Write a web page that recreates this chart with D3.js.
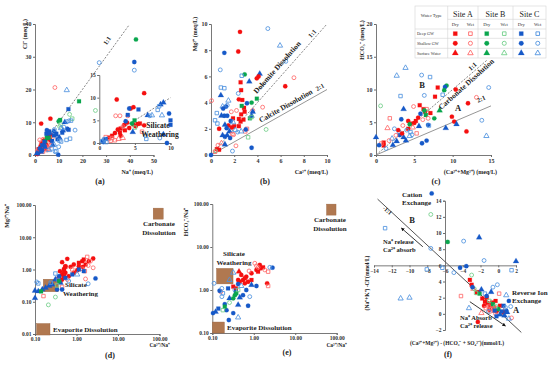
<!DOCTYPE html>
<html>
<head>
<meta charset="utf-8">
<script src="https://cdn.jsdelivr.net/npm/d3@7"></script>
<style>
  body { margin: 0; background: #fff; }
  svg { font-family: "Liberation Serif", "Times New Roman", serif; }
</style>
</head>
<body>
<svg width="550" height="366"></svg>
<script>
// codes: site (A/B/C), season (d = dry, w = wet), type (s = deep GW, c = shallow GW, t = surface water)
var naCl = [
  [2.6,9.6,"Adc"],[6.5,11.1,"Adc"],[5.5,7.2,"Adc"],[4,3.5,"Adc"],[3,2.2,"Adc"],[2,1.2,"Adc"],[1.5,0.8,"Adc"],[5,5,"Adc"],[3.5,4.2,"Adc"],[6.5,4.5,"Adc"],[4.5,2.8,"Adc"],[1,0.3,"Adc"],[7,6,"Adc"],[2.5,3,"Adc"],
  [3,2.8,"Ads"],[4.2,4.5,"Ads"],[2.2,1.6,"Ads"],[5.5,6.2,"Ads"],[3.5,3.5,"Ads"],[1.5,1.8,"Ads"],[6,5.5,"Ads"],
  [2,2.2,"Adt"],[4,1.8,"Adt"],[3.2,4,"Adt"],[5,3,"Adt"],
  [8.4,20.6,"Awc"],[2,4.6,"Awc"],[3.4,4.8,"Awc"],[6.2,2.8,"Awc"],[1,1.4,"Awc"],[5.2,3.6,"Awc"],[7.3,5.2,"Awc"],
  [4,2.6,"Aws"],[2.6,3.8,"Aws"],[6.6,3,"Aws"],[1.6,1,"Aws"],[4.8,1.5,"Aws"],
  [3,1,"Awt"],[5.5,1.8,"Awt"],
  [18.6,16.4,"Bds"],[10.6,10.7,"Bds"],[5.8,5.2,"Bds"],[4.3,4.3,"Bds"],
  [42.6,35.3,"Bdc"],[10,10.3,"Bdc"],[5,5.5,"Bdc"],
  [25.5,13.6,"Bwc"],[14.6,12.4,"Bwc"],[10.4,8.7,"Bwc"],
  [15.7,11.1,"Bws"],[10.8,9.3,"Bws"],
  [14.1,14,"Cds"],[14.2,7.7,"Cds"],[6,7.2,"Cds"],[4.8,6.5,"Cds"],[9,6.5,"Cds"],[8,6,"Cds"],[4,4,"Cds"],[7.2,4.3,"Cds"],[3,3,"Cds"],[11.5,6.8,"Cds"],[9.5,4.8,"Cds"],
  [41.9,28.4,"Cdc"],[9.8,0.1,"Cdc"],[5,7.6,"Cdc"],[6.2,6.6,"Cdc"],[4,2.8,"Cdc"],[2,2,"Cdc"],[3,1.4,"Cdc"],[13.6,8,"Cdc"],[8,7.3,"Cdc"],[1.2,0.5,"Cdc"],
  [12.6,10,"Cdt"],[9,6.2,"Cdt"],[10.3,5.3,"Cdt"],[7.5,3,"Cdt"],[4.2,2.4,"Cdt"],[2.5,1,"Cdt"],[0.8,0.5,"Cdt"],[11.8,7.5,"Cdt"],
  [27.1,28.2,"Cwc"],[41.9,25.9,"Cwc"],[16.9,7.6,"Cwc"],[12.2,8.5,"Cwc"],[13.5,10.2,"Cwc"],[8.2,7.8,"Cwc"],[10,2.5,"Cwc"],[8.5,1,"Cwc"],[14.3,10.4,"Cwc"],
  [15.2,10.5,"Cws"],[13.3,4.6,"Cws"],[11,4.1,"Cws"],[14.8,5,"Cws"],[7,2,"Cws"],[9,1.2,"Cws"],[10.3,4.4,"Cws"],
  [13.4,19.8,"Cwt"],[11,8.2,"Cwt"],[6,1.5,"Cwt"],[8,3.2,"Cwt"]
];
var naClZoom = [
  [2.45,9.6,"Adc"],[6.3,11,"Adc"],[4.8,7.9,"Adc"],[4.4,7.6,"Adc"],[3.5,4,"Adc"],[3.9,4.5,"Adc"],[2.6,3,"Adc"],[2.2,2.2,"Adc"],[4.2,3.3,"Adc"],[5.1,3.7,"Adc"],[3,1.6,"Adc"],[6.3,3.9,"Adc"],
  [5.7,4.3,"Ads"],[5.4,4.2,"Ads"],[3,3.2,"Ads"],[3.6,2.8,"Ads"],[2.9,2.3,"Ads"],[1.8,1.6,"Ads"],[1.4,1.2,"Ads"],[4.8,4.1,"Ads"],
  [2.3,6,"Awc"],[2.9,6,"Awc"],[4,6,"Awc"],[3.3,3.6,"Awc"],
  [6,2.5,"Aws"],[0.9,1.3,"Aws"],[1.3,0.9,"Aws"],[1.8,1.1,"Aws"],[2.2,0.6,"Aws"],[1.6,0.5,"Aws"],
  [3.3,1.1,"Awt"],[2.7,0.9,"Awt"],
  [4.95,5,"Bds"],[4.6,4.3,"Bdc"],[5,3.4,"Bws"],
  [4,6.2,"Cds"],[5.5,7.4,"Cds"],[10,5,"Cds"],[10,4,"Cds"],[0.9,0.9,"Cds"],
  [4.2,7.6,"Cdc"],[9.8,6.5,"Cdc"],[9.5,0,"Cdc"],[0.5,0.5,"Cdc"],[0.6,0.2,"Cdc"],[3.7,4.8,"Cdc"],
  [9,8.9,"Cdt"],[8.6,8.5,"Cdt"],[9,1.9,"Cdt"],[6.8,6.1,"Cdt"],[4.7,2.4,"Cdt"],
  [8.4,8.1,"Cws"],[8.2,7.3,"Cws"],[6.6,0.9,"Cws"],[0.4,0.4,"Cws"],[1,0.2,"Cws"],[0.7,0.8,"Cws"],
  [7.1,6,"Cwc"],[6.5,1.6,"Cwc"],[8.5,1.1,"Cwc"],
  [7.4,6.1,"Cwt"],[8.8,6.1,"Cwt"]
];
var caMg = [
  [2.5,9.4,"Adc"],[2.35,7.9,"Adc"],[1.15,7.8,"Cdc"],[4.9,9.65,"Cwc"],[5.95,8.35,"Cwt"],[6.45,7.15,"Cwc"],[0.8,6.5,"Cwc"],[2.9,6.15,"Bdc"],
  [2.65,6.05,"Cws"],[4.2,6.2,"Cdt"],[4.1,6,"Adc"],[3.95,5.85,"Adc"],[2.55,5.55,"Ads"],[7.15,5.9,"Awc"],[6.4,5.25,"Adc"],[3.3,5.6,"Cdt"],
  [0.85,5.15,"Cws"],[1.15,5.1,"Cws"],[0.85,4.55,"Cdt"],[1.5,4.15,"Cwt"],[2.35,4.7,"Cwc"],[2.6,4.95,"Ads"],[2.7,4.2,"Ads"],[2.4,4.25,"Adc"],
  [1.3,3.7,"Cdc"],[0.05,4.15,"Awc"],[1.4,3.8,"Cwc"],[3.95,4.3,"Bds"],[3.5,4,"Bdc"],[3.1,3.95,"Cdc"],[2.85,3.6,"Ads"],[2.65,3.75,"Bds"],
  [4.45,3.65,"Awc"],[1,3.7,"Cwt"],[0.5,3.2,"Cws"],[0.9,3,"Cdt"],[1.15,3,"Cdc"],[1.4,3,"Cdc"],[1.9,2.8,"Ads"],[2.4,2.75,"Ads"],
  [2.8,2.7,"Ads"],[2.6,3.1,"Ads"],[2.9,3.3,"Ads"],[3.35,2.8,"Bds"],[3.4,2.85,"Bwc"],[3.5,3,"Cdt"],[3.5,2.9,"Bws"],[0.35,2.65,"Cws"],
  [0.55,2.4,"Cws"],[2.55,2.55,"Ads"],[2.4,2.2,"Ads"],[1.5,2.25,"Adc"],[1.8,2.1,"Adc"],[2,2.2,"Ads"],[3.1,2,"Aws"],[2.95,1.8,"Aws"],
  [3.2,1.35,"Bws"],[4.75,1.95,"Bwc"],[1.2,2.3,"Cdt"],[1.35,2.05,"Cdc"],[1.6,1.8,"Cdt"],[1.7,2.6,"Cdc"],[1.4,1.5,"Cdt"],[1.65,1.3,"Cdc"],
  [1.2,1.4,"Cdc"],[1,1.5,"Cdt"],[1.85,1.6,"Aws"],[2.1,1.9,"Cwt"],[2.3,1.75,"Cwc"],[2.6,1.8,"Cwt"],[3,1.95,"Cdc"],[0.7,2,"Adc"],
  [1.95,1.55,"Awc"],[0.6,0.75,"Awc"],[0.9,0.9,"Awt"],[0.5,0.45,"Ads"],[0.7,0.4,"Ads"],[0.4,0.3,"Bwc"],[0.35,0.25,"Aws"],[0,0,"Cdc"],
  [3.5,0.55,"Cdc"],[1.85,0.3,"Cwc"],[2.15,0.7,"Awc"],[1.2,0.8,"Cdt"],[2.2,3.4,"Awc"],[1.75,3.3,"Awc"],[1.05,3.55,"Cdc"],[1.9,2.5,"Cwt"],
  [3.6,3.4,"Awc"],[3.6,3.3,"Cdt"]
];
var caMgHco3 = [
  [3.85,13.3,"Cwt"],[5.95,12.2,"Cwc"],[7.05,11.9,"Cws"],[2.7,12.1,"Cwt"],[8.05,10.3,"Ads"],[9.2,10.6,"Bdc"],[9,10.4,"Cdc"],[10.4,10,"Adc"],
  [7.7,8.9,"Ads"],[3.2,9,"Cws"],[6.3,9.1,"Cwc"],[8.7,9.2,"Cws"],[14.7,10.3,"Cwc"],[13.1,8.8,"Awc"],[12,7.9,"Adc"],[0.6,7.5,"Bwc"],
  [5.7,7.6,"Ads"],[6.2,7,"Ads"],[6.4,6.6,"Ads"],[4.9,7.4,"Awc"],[3.6,7,"Cdt"],[6.6,7,"Aws"],[6.7,6.6,"Bwc"],[6.3,6.8,"Bdc"],
  [8.3,6.8,"Bdt"],[1.8,5.6,"Aws"],[9.9,5.85,"Adc"],[7.6,5.6,"Bdc"],[6.1,5.4,"Awc"],[3.3,5.45,"Cdc"],[4.2,5.2,"Adc"],[1.5,4.1,"Awt"],
  [10.2,5.1,"Adc"],[9.1,4.1,"Cdt"],[10.5,4.7,"Cdt"],[11.8,3.6,"Adc"],[13.8,5.3,"Cwc"],[14.4,2.9,"Cwt"],[6.8,4.6,"Cdc"],[6.9,4.5,"Cws"],
  [6,1.8,"Cdc"],[6.6,2.2,"Cdc"],[0,2.7,"Cdt"],[1,1.9,"Ads"],[1,1.45,"Ads"],[0.7,1.75,"Aws"],[3.1,3.05,"Cdc"],[2.7,2.1,"Cdt"],
  [3.6,2.7,"Cdt"],[4.2,4,"Ads"],[4.6,4.8,"Ads"],[5,4.9,"Adc"],[5.2,5.2,"Ads"],[4.4,4.7,"Bdc"],[3.5,4.5,"Awc"],[4,3.8,"Cwc"],
  [4.5,3.5,"Cws"],[3,3.5,"Cws"],[2.6,3,"Awc"],[2.4,4,"Cwc"],[5.5,5.7,"Adc"],[5.8,6.3,"Cdc"],[4.8,4.2,"Awt"],[2.1,2.5,"Cwt"],
  [1.7,2.2,"Awc"],[3.9,2.2,"Cdt"],[4.7,3.1,"Cwc"],[5.3,3.3,"Aws"],[3.4,3.3,"Adc"],[2.9,3.8,"Adc"],[4.4,2.9,"Cwt"],[1.3,1,"Cwc"],
  [2.2,1.5,"Cdt"],[5.6,4.4,"Cdt"],[7.1,6.4,"Ads"],[6.5,6.1,"Bds"],[6.8,5.6,"Awc"],[0.4,1.5,"Cdc"],[8.9,9.9,"Bdc"]
];
var mgNa = [
  [0.6,2.14,"Adc"],[0.45,1.69,"Adc"],[0.54,1.27,"Adc"],[0.72,1.21,"Adc"],[0.4,0.89,"Adc"],[0.45,0.7,"Adc"],[0.54,0.79,"Adc"],[0.65,0.62,"Adc"],
  [0.86,1.43,"Adc"],[1.14,1.27,"Adc"],[1.37,1.81,"Adc"],[1.04,0.95,"Adc"],[1.42,1.21,"Adc"],[2.52,2.19,"Adc"],[1.98,1.81,"Adc"],[0.86,0.79,"Adc"],
  [0.45,0.49,"Adc"],[0.34,0.49,"Adc"],[0.5,1.05,"Adc"],
  [0.54,1.21,"Ads"],[0.5,0.89,"Ads"],[1.14,1.61,"Ads"],[1.5,2.04,"Ads"],[1.65,1.43,"Ads"],[0.38,0.55,"Ads"],[0.41,0.44,"Ads"],[0.5,0.62,"Ads"],
  [1.81,2.46,"Aws"],[2.17,1.81,"Awc"],[2.52,1.13,"Awc"],[1.65,0.51,"Awc"],[1.37,1.05,"Aws"],[0.79,1,"Aws"],[1.91,1.33,"Awc"],[0.16,0.15,"Aws"],
  [0.45,0.29,"Aws"],[0.6,0.49,"Awc"],[1.59,0.89,"Aws"],
  [2.87,0.53,"Cdc"],[0.41,0.39,"Cdt"],[0.31,0.49,"Cdt"],[0.26,0.34,"Cdt"],[0.22,0.31,"Cdt"],[0.18,0.27,"Cdt"],[0.15,0.24,"Cdt"],[0.12,0.21,"Cdt"],
  [0.1,0.22,"Cdt"],[0.1,0.13,"Cdt"],[0.34,0.24,"Cdc"],[0.45,0.24,"Cdc"],[1.14,1,"Cds"],[1.5,0.89,"Cds"],[0.54,0.55,"Cds"],[0.79,0.7,"Cds"],
  [0.38,0.62,"Cdc"],[0.31,0.75,"Cws"],[0.36,0.47,"Cws"],[1.91,0.36,"Cwc"],[0.12,0.37,"Cws"],[0.11,0.41,"Cwc"],[0.24,0.39,"Cws"],[0.65,0.44,"Cwc"],
  [1.04,0.7,"Cwt"],
  [0.14,0.21,"Bds"],[0.31,0.14,"Bwc"],[0.21,0.08,"Bwc"],[0.38,0.44,"Bdc"],[0.34,0.32,"Bws"]
];
var hco3Na = [
  [2.83,3.31,"Cdc"],
  [1.4,3.83,"Adc"],[1.48,3.2,"Adc"],[1.16,2.93,"Adc"],[0.88,2.45,"Adc"],[0.66,2.04,"Adc"],[0.55,1.71,"Adc"],[0.46,1.56,"Adc"],[0.42,1.71,"Adc"],
  [0.5,2.24,"Adc"],[0.61,1.43,"Adc"],[0.73,1.56,"Adc"],[0.44,2.67,"Adt"],[0.37,1.09,"Ads"],[0.32,1.2,"Ads"],[0.88,1.71,"Ads"],[2.1,1.43,"Adc"],
  [1.27,2.67,"Ads"],[1.68,3.37,"Ads"],[0.61,1.87,"Ads"],
  [1.06,4.18,"Awc"],[1.16,3.63,"Awc"],[0.77,2.77,"Awc"],[2.22,2.67,"Aws"],[2.22,1.24,"Aws"],[0.16,0.91,"Awc"],[1.85,2.93,"Awc"],[1.27,3.37,"Awc"],
  [0.104,0.29,"Cdc"],[0.22,0.34,"Cdc"],[0.25,0.2,"Cdc"],[0.32,0.29,"Cdc"],[0.73,0.43,"Cdc"],[0.15,0.96,"Cdc"],[0.24,1.09,"Cds"],[0.42,1.38,"Cdc"],
  [0.37,0.91,"Cdc"],[0.2,0.47,"Cdc"],[0.26,0.64,"Cdt"],[0.42,0.45,"Cdt"],[0.46,0.67,"Cdt"],[0.88,1.31,"Cdt"],[0.55,0.76,"Cdc"],[0.12,0.31,"Cdt"],
  [0.14,0.37,"Cds"],[0.66,1,"Cdc"],[1.16,1.24,"Cdc"],
  [0.11,1.43,"Cwc"],[0.32,2.53,"Cwt"],[0.17,1.09,"Cwc"],[0.18,0.84,"Cws"],[0.17,0.7,"Cwc"],[0.42,0.23,"Cwt"],[0.35,1,"Cwc"],[0.8,0.7,"Cwc"],
  [0.5,1.24,"Cwt"],[0.26,1.71,"Cwt"],[2.44,3.37,"Cwc"],
  [0.32,0.64,"Bdc"],[0.35,0.76,"Bdc"],[0.38,0.84,"Bds"],[0.2,0.41,"Bds"],[0.18,0.34,"Bws"],[0.26,0.51,"Bwc"],[0.42,1,"Bws"]
];
var ionEx = [
  [-7.5,14.9,"Cdc"],[-7.6,12.3,"Bwc"],[-12.75,10.6,"Cws"],[-5.7,8.9,"Bdc"],[-3.9,9,"Cwc"],[-2.15,9.45,"Cdt"],[-7.6,8.1,"Cwc"],[-1.6,6.6,"Cwc"],
  [2,6.5,"Cdt"],[-8.05,5.5,"Cws"],[-6.3,5.7,"Cws"],[1.5,5.4,"Cws"],[-4.3,5.7,"Cdc"],[-3.6,5.9,"Cdc"],[-5,5.1,"Cwc"],[-11,1.9,"Cwt"],
  [-10,2,"Cwt"],[-4.2,2.2,"Aws"],[-2.3,-1,"Adc"],
  [-3.2,4.2,"Ads"],[-3,3.6,"Ads"],[-2.4,2.6,"Ads"],[-2.2,2.7,"Ads"],[-1.8,1.9,"Ads"],[-1.5,1.5,"Ads"],[-1.2,1.3,"Ads"],[-0.9,1,"Ads"],
  [-0.7,1.4,"Ads"],[-0.5,0.8,"Ads"],[-1.3,2,"Ads"],[-0.3,1.6,"Ads"],[0.2,1,"Ads"],
  [-1,0.5,"Adc"],[-0.2,0.3,"Adc"],[0.6,0.2,"Adc"],[-1.6,1,"Adc"],
  [-1.1,0.9,"Aws"],[-0.8,0.6,"Aws"],[-0.5,0.4,"Aws"],[-0.2,0.7,"Aws"],[-1.4,0.7,"Aws"],[0.1,2.5,"Aws"],[-0.6,1.1,"Aws"],
  [1.5,-0.5,"Awc"],[-0.9,0.3,"Awc"],[-0.3,0,"Awc"],[0.4,0.6,"Awc"],[-1.9,0.1,"Awt"],[-2.8,3.1,"Awt"],
  [-2.1,2.5,"Bds"],[-3,4.8,"Bwc"],[-2.7,3.1,"Bwc"],[-1,1.6,"Bws"],[0,0.6,"Bdc"],[-0.6,1.2,"Bds"],[-2.5,2.6,"Bws"],[-0.3,0.9,"Bws"],
  [-2.9,3.3,"Cdc"],[-1.9,3,"Cdt"],[-0.6,3.3,"Cwc"],[-0.1,3.6,"Cwc"],[0.9,2.3,"Cwt"],[1.2,1.6,"Cdc"],[0.6,1,"Cds"],[0.9,0.4,"Cdc"],
  [1,0.2,"Cdt"],[0.4,0.3,"Cds"],[0.2,-0.1,"Cdt"],[0.7,-0.2,"Cdt"],[1.2,-0.6,"Cwt"],[-0.4,0.4,"Cds"],[-1.1,0.3,"Cwc"],[-3.3,0.7,"Cwt"],
  [-0.8,2.7,"Cdt"],[-1.5,2.5,"Cws"],[0.8,0.8,"Cwc"],[-0.2,-0.3,"Cds"],[1.4,0.9,"Cwc"],[-1.3,2.2,"Cdc"]
];

// ticks
var ticksNa = [0,10,20,30,40,50], ticksCl = [0,10,20,30,40];
var ticksZoomX = [0,5,10], ticksZoomY = [0,5,10,15];
var ticksCa = [0,2,4,6,8,10];
var ticksC = [0,5,10,15], ticksHco3 = [0,5,10,15,20];
var ticksLogX = [0.1,1,10,100], ticksLogD = [0.01,0.1,1,10,100], ticksLogE = [0.1,1,10,100];
var ticksFX = [-14,-12,-10,-8,-6,-4,-2,0,2], ticksFY = [-2,0,2,4,6,8,10,12,14];

// reference lines, end points in data units
var lineA11 = [[0,0],[39.5,39.5]], lineZoom11 = [[0,0],[10,10]];
var lineB11 = [[0,0],[10,10]], lineB21 = [[0,0],[10,5]];
var lineC11 = [[0,0],[14.5,14.5]], lineC21 = [[0,0],[15,7.5]];
var lineF = [[-13.6,14.2],[2.6,-2.3]];
var arrowsF = [[[-8.5,8.3],[-10.9,10.6]], [[-3.2,1.5],[0.8,-1.5]]];

// end-member boxes
var boxesD = [["Carbonate", 93, 54, 10, 11], ["Silicate", 0.24, 0.32, 15, 12.5], ["Evaporite", 0.158, 0.014, 13.5, 11.5]];
var boxesE = [["Carbonate", 74, 74, 9.5, 11], ["Silicate", 0.2, 2.1, 16.5, 15.5], ["Evaporite", 0.14, 0.134, 12, 11]];

// legend
var sites = ["Site A", "Site B", "Site C"];
var seasons = ["Dry", "Wet"];
var waterTypes = ["Deep GW", "Shallow GW", "Surface Water"];

var colors = { A: ["#f50f0f", "#ff6a6a"], B: ["#0aa64e", "#72cf8a"], C: ["#1659c8", "#4f92df"] };
var shapes = { s: d3.symbolSquare, c: d3.symbolCircle, t: d3.symbolTriangle };

var svg = d3.select("svg");
var brown = "#b07850";

function col(code) { return colors[code[0]][code[1] === "d" ? 0 : 1]; }

function drawPts(g, data, x, y, sz) {
  sz = sz || 15;
  g.append("g").selectAll("path").data(data).join("path")
    .attr("transform", d => "translate(" + x(d[0]) + "," + y(d[1]) + ")")
    .attr("d", d => d3.symbol(shapes[d[2][2]], d[2][1] === "d" ? sz : sz * 0.8)())
    .attr("fill", d => d[2][1] === "d" ? col(d[2]) : "none")
    .attr("stroke", d => col(d[2]))
    .attr("stroke-width", d => d[2][1] === "d" ? 0.2 : 0.85);
}

function styleAxis(a, fs) {
  a.attr("font-family", null);
  a.select(".domain").attr("stroke", "#6a6a6a").attr("stroke-width", 0.9);
  a.selectAll(".tick line").attr("stroke", "#6a6a6a");
  a.selectAll("text").attr("font-size", fs || 6).attr("font-weight", "bold").attr("fill", "#333");
}

function axes(x, y, xt, yt, fmt, fs) {
  var ax = svg.append("g").attr("transform", "translate(0," + y.range()[0] + ")")
    .call(d3.axisBottom(x).tickValues(xt).tickSize(2).tickPadding(1.5).tickFormat(fmt));
  styleAxis(ax, fs);
  var ay = svg.append("g").attr("transform", "translate(" + x.range()[0] + ",0)")
    .call(d3.axisLeft(y).tickValues(yt).tickSize(2).tickPadding(1.5).tickFormat(fmt));
  styleAxis(ay, fs);
}

function refLine(pts, x, y, dash, color, w) {
  svg.append("line")
    .attr("x1", x(pts[0][0])).attr("y1", y(pts[0][1]))
    .attr("x2", x(pts[1][0])).attr("y2", y(pts[1][1]))
    .attr("stroke", color || "#777").attr("stroke-width", w || 0.9)
    .attr("stroke-dasharray", dash ? "2,1.5" : null);
}

function txt(x, y, s, opt) {
  opt = opt || {};
  var t = svg.append("text").attr("x", x).attr("y", y).text(s)
    .attr("font-size", opt.fs || 6).attr("font-weight", opt.bold === false ? "normal" : "bold")
    .attr("fill", opt.fill || "#222")
    .attr("text-anchor", opt.anchor || "start");
  if (opt.rot) t.attr("transform", "rotate(" + opt.rot + "," + x + "," + y + ")");
  return t;
}

var fmtInt = d3.format("d"), fmt2 = d3.format(".2f");

// ---- (a)
var xA = d3.scaleLinear([0, 50], [35, 153.5]), yA = d3.scaleLinear([0, 40], [155, 24]);
axes(xA, yA, ticksNa, ticksCl, fmtInt);
refLine(lineA11, xA, yA, true);
var gA = svg.append("g");
drawPts(gA, naCl, xA, yA);
var xZ = d3.scaleLinear([0, 10], [99.3, 170.5]), yZ = d3.scaleLinear([0, 15], [143, 75]);
axes(xZ, yZ, ticksZoomX, ticksZoomY, fmtInt, 5.5);
refLine(lineZoom11, xZ, yZ, true);
drawPts(svg.append("g"), naClZoom, xZ, yZ);
txt(109, 42, "1:1", { rot: -55, anchor: "middle", fs: 6.5 });
txt(158, 128, "Silicate", { anchor: "middle", fs: 7.5 });
txt(160, 137, "Weathering", { anchor: "middle", fs: 7.5 });
txt(27, 34, "Cl⁻ (meq/L)", { rot: -90, anchor: "middle" });
txt(153, 174, "Na⁺ (meq/L)", { anchor: "end" });
txt(100, 184, "(a)", { anchor: "middle", fs: 8 });

// ---- (b)
var xB = d3.scaleLinear([0, 10], [211, 327]), yB = d3.scaleLinear([0, 10], [155, 24]);
axes(xB, yB, ticksCa, ticksCa, fmtInt);
refLine(lineB11, xB, yB, true);
refLine(lineB21, xB, yB, false, "#8a8a8a");
drawPts(svg.append("g"), caMg, xB, yB);
txt(279, 69, "Dolomite  Dissolution", { rot: -48.5, anchor: "middle", fs: 7.5 });
txt(314, 35, "1:1", { rot: -48.5, anchor: "middle", fs: 6.5 });
txt(287, 108, "Calcite  Dissolution", { rot: -29.5, anchor: "middle", fs: 7.5 });
txt(321, 89, "2:1", { rot: -29.5, anchor: "middle", fs: 6.5 });
txt(197, 34, "Mg²⁺ (meq/L)", { rot: -90, anchor: "middle" });
txt(328, 174, "Ca²⁺ (meq/L)", { anchor: "end" });
txt(265, 184, "(b)", { anchor: "middle", fs: 8 });

// ---- (c)
var xC = d3.scaleLinear([0, 15], [376, 491]), yC = d3.scaleLinear([0, 20], [155, 24]);
axes(xC, yC, ticksC, ticksHco3, fmtInt);
refLine(lineC11, xC, yC, true);
refLine(lineC21, xC, yC, false, "#8a8a8a");
drawPts(svg.append("g"), caMgHco3, xC, yC);
txt(468, 86, "Carbonate  Dissolution", { rot: -42, anchor: "middle", fs: 7.5 });
txt(474, 68, "1:1", { rot: -42, anchor: "middle", fs: 6.5 });
txt(482, 101, "2:1", { rot: -23, anchor: "middle", fs: 6.5 });
txt(422, 88, "B", { anchor: "middle", fs: 8.5 });
txt(458, 111, "A", { anchor: "middle", fs: 8.5 });
txt(364, 40, "HCO₃⁻ (meq/L)", { rot: -90, anchor: "middle" });
txt(497, 174, "(Ca²⁺+Mg²⁺) (meq/L)", { anchor: "end" });
txt(436, 184, "(c)", { anchor: "middle", fs: 8 });

// legend table
var lg = svg.append("g");
var cx0 = 415, cw = [32.7, 30.3, 35, 33], ry = [6, 19.3, 29, 38.3, 48.3, 58];
var cxs = [cx0];
cw.forEach(w => cxs.push(cxs[cxs.length - 1] + w));
lg.append("rect").attr("x", cx0).attr("y", ry[0]).attr("width", cxs[4] - cx0).attr("height", ry[5] - ry[0])
  .attr("fill", "#fff").attr("stroke", "#d4d4d4").attr("stroke-width", 0.6);
[1, 2, 3].forEach(i => lg.append("line").attr("x1", cxs[i]).attr("x2", cxs[i]).attr("y1", ry[0]).attr("y2", ry[5])
  .attr("stroke", "#d4d4d4").attr("stroke-width", 0.6));
[1, 2, 3, 4].forEach(j => lg.append("line").attr("x1", j === 1 ? cxs[1] : cx0).attr("x2", cxs[4]).attr("y1", ry[j]).attr("y2", ry[j])
  .attr("stroke", "#d4d4d4").attr("stroke-width", 0.6));
lg.append("text").attr("x", (cxs[0] + cxs[1]) / 2).attr("y", 16.5).attr("text-anchor", "middle")
  .attr("font-size", 4.6).attr("fill", "#333").text("Water Type");
sites.forEach((s, i) => {
  var a = cxs[i + 1], b = cxs[i + 2];
  lg.append("text").attr("x", (a + b) / 2).attr("y", 16.5).attr("text-anchor", "middle")
    .attr("font-size", 8).attr("fill", "#222").text(s);
  seasons.forEach((se, k) => {
    var sx = a + (b - a) * (k === 0 ? 0.25 : 0.75);
    lg.append("text").attr("x", sx).attr("y", 26.3).attr("text-anchor", "middle")
      .attr("font-size", 4.6).attr("fill", "#333").text(se);
    ["s", "c", "t"].forEach((sh, r) => {
      var code = "ABC"[i] + (k === 0 ? "d" : "w") + sh;
      lg.append("path").attr("transform", "translate(" + sx + "," + (ry[r + 2] + ry[r + 3]) / 2 + ")")
        .attr("d", d3.symbol(shapes[sh], k === 0 ? 17 : 13)())
        .attr("fill", k === 0 ? col(code) : "none").attr("stroke", col(code))
        .attr("stroke-width", k === 0 ? 0.2 : 0.9);
    });
  });
});
waterTypes.forEach((w, r) => {
  lg.append("text").attr("x", cx0 + 2).attr("y", (ry[r + 2] + ry[r + 3]) / 2 + 1.5)
    .attr("font-size", 4.2).attr("fill", "#333").text(w);
});

// ---- (d)
var xD = d3.scaleLog([0.1, 100], [35, 159.5]), yD = d3.scaleLog([0.01, 100], [334, 205]);
axes(xD, yD, ticksLogX, ticksLogD, fmt2, 5.5);
function boxes(list, x, y) {
  list.forEach(b => {
    svg.append("rect").attr("x", x(b[1]) - b[3] / 2).attr("y", y(b[2]) - b[4] / 2)
      .attr("width", b[3]).attr("height", b[4]).attr("fill", brown).attr("stroke", "#9a6440").attr("stroke-width", 0.4);
  });
}
boxes(boxesD, xD, yD);
drawPts(svg.append("g"), mgNa, xD, yD);
txt(159, 226, "Carbonate", { anchor: "middle", fs: 7 });
txt(159, 235, "Dissolution", { anchor: "middle", fs: 7 });
txt(65, 287, "Silicate", { fs: 7 });
txt(63, 296, "Weathering", { fs: 7 });
txt(53, 332, "Evaporite  Dissolution", { fs: 7 });
txt(9, 216, "Mg²⁺/Na⁺", { rot: -90, anchor: "middle" });
txt(170, 347, "Ca²⁺/Na⁺", { anchor: "end", fs: 5.5 });
txt(110, 358, "(d)", { anchor: "middle", fs: 8 });

// ---- (e)
var xE = d3.scaleLog([0.1, 100], [212.3, 336.7]), yE = d3.scaleLog([0.1, 100], [333, 204]);
axes(xE, yE, ticksLogX, ticksLogE, fmt2, 5.5);
boxes(boxesE, xE, yE);
drawPts(svg.append("g"), hco3Na, xE, yE);
txt(330, 222, "Carbonate", { anchor: "middle", fs: 7 });
txt(330, 231, "Dissolution", { anchor: "middle", fs: 7 });
txt(234, 256, "Silicate", { anchor: "middle", fs: 7 });
txt(234, 265, "Weathering", { anchor: "middle", fs: 7 });
txt(227, 330, "Evaporite  Dissolution", { fs: 7 });
txt(188, 222, "HCO₃⁻/Na⁺", { rot: -90, anchor: "middle" });
txt(347, 347, "Ca²⁺/Na⁺", { anchor: "end", fs: 5.5 });
txt(287, 355, "(e)", { anchor: "middle", fs: 8 });

// ---- (f)
var xF = d3.scaleLinear([-14, 2], [374, 516]), yF = d3.scaleLinear([-2, 14], [330, 200.7]);
var fx = svg.append("g").attr("transform", "translate(0," + yF(6) + ")")
  .call(d3.axisBottom(xF).tickValues(ticksFX).tickSize(2).tickPadding(1.5).tickFormat(fmtInt));
styleAxis(fx, 5.5);
var fy = svg.append("g").attr("transform", "translate(" + xF(-6) + ",0)")
  .call(d3.axisLeft(yF).tickValues(ticksFY).tickSize(2).tickPadding(1.5).tickFormat(fmtInt));
styleAxis(fy, 5.5);
refLine(lineF, xF, yF, false, "#555", 1);
drawPts(svg.append("g"), ionEx, xF, yF);
svg.append("defs").append("marker").attr("id", "ah").attr("viewBox", "0 0 6 6").attr("refX", 5).attr("refY", 3)
  .attr("markerWidth", 4).attr("markerHeight", 4).attr("orient", "auto")
  .append("path").attr("d", "M0,0L6,3L0,6Z").attr("fill", "#111");
arrowsF.forEach(a => svg.append("line")
  .attr("x1", xF(a[0][0])).attr("y1", yF(a[0][1])).attr("x2", xF(a[1][0])).attr("y2", yF(a[1][1]))
  .attr("stroke", "#222").attr("stroke-width", 0.9).attr("marker-end", "url(#ah)"));
txt(402, 197, "Cation", { fs: 7 });
txt(402, 205, "Exchange", { fs: 7 });
txt(412, 223, "B", { anchor: "middle", fs: 8.5 });
txt(386, 212, "-1:1", { rot: 42, anchor: "middle", fs: 6 });
txt(383, 244, "Na⁺ release", { fs: 6.5 });
txt(383, 252, "Ca²⁺ absorb", { fs: 6.5 });
txt(512, 295, "Reverse Ion", { fs: 7 });
txt(512, 303, "Exchange", { fs: 7 });
txt(516, 313, "A", { anchor: "middle", fs: 8.5 });
txt(460, 320, "Na⁺ Absorb", { fs: 6.5 });
txt(460, 328, "Ca²⁺ release", { fs: 6.5 });
txt(369, 283, "(Na⁺+K⁺) -Cl⁻(mmol/L)", { rot: -90, anchor: "middle", fs: 5.5 });
txt(457, 345, "(Ca²⁺+Mg²⁺) - (HCO₃⁻ + SO₄²⁻)(mmol/L)", { anchor: "middle", fs: 5.5 });
txt(448, 357, "(f)", { anchor: "middle", fs: 8 });
</script>
</body>
</html>
